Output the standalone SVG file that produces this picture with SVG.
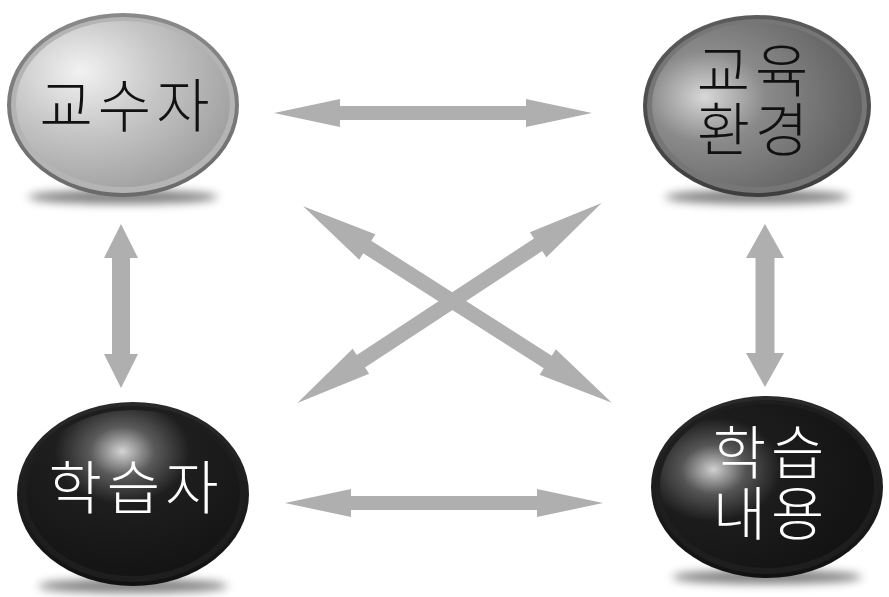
<svg xmlns="http://www.w3.org/2000/svg" width="889" height="597" viewBox="0 0 889 597">
  <defs>
    <style>
      .lbl { font-family: "Noto Sans CJK KR", "Noto Sans", sans-serif; font-size: 58px; font-weight: 300; text-anchor: middle; letter-spacing: 5px; }
      .dark { fill: #111111; }
      .light { fill: #ffffff; }
      .arrow { fill: #afafaf; }
    </style>
    <filter id="blurShadow" x="-30%" y="-200%" width="160%" height="500%">
      <feGaussianBlur stdDeviation="5"/>
    </filter>
    <!-- rim gradients -->
    <linearGradient id="rimLight" x1="0" y1="0" x2="0" y2="1">
      <stop offset="0" stop-color="#8a8a8a"/>
      <stop offset="1" stop-color="#6a6a6a"/>
    </linearGradient>
    <linearGradient id="rimMid" x1="0" y1="0" x2="0" y2="1">
      <stop offset="0" stop-color="#5c5c5c"/>
      <stop offset="1" stop-color="#3e3e3e"/>
    </linearGradient>
    <linearGradient id="rimDark" x1="0" y1="0" x2="0" y2="1">
      <stop offset="0" stop-color="#2a2a2a"/>
      <stop offset="1" stop-color="#111111"/>
    </linearGradient>
    <!-- body gradients -->
    <radialGradient id="bodyLight" cx="0.33" cy="0.33" r="0.8" fx="0.3" fy="0.3">
      <stop offset="0" stop-color="#f2f2f2"/>
      <stop offset="0.45" stop-color="#c6c6c6"/>
      <stop offset="1" stop-color="#9a9a9a"/>
    </radialGradient>
    <radialGradient id="bodyMid" cx="0.28" cy="0.45" r="0.8" fx="0.25" fy="0.45">
      <stop offset="0" stop-color="#d8d8d8"/>
      <stop offset="0.35" stop-color="#8a8a8a"/>
      <stop offset="1" stop-color="#5a5a5a"/>
    </radialGradient>
    <radialGradient id="bodyDarkA" cx="0.45" cy="0.25" r="0.75" fx="0.45" fy="0.25">
      <stop offset="0" stop-color="#d4d4d4"/>
      <stop offset="0.2" stop-color="#5a5a5a"/>
      <stop offset="0.42" stop-color="#1e1e1e"/>
      <stop offset="1" stop-color="#141414"/>
    </radialGradient>
    <radialGradient id="bodyDarkB" cx="0.25" cy="0.4" r="0.75" fx="0.25" fy="0.4">
      <stop offset="0" stop-color="#d0d0d0"/>
      <stop offset="0.2" stop-color="#555555"/>
      <stop offset="0.42" stop-color="#1c1c1c"/>
      <stop offset="1" stop-color="#131313"/>
    </radialGradient>
  </defs>

  <!-- connectors -->
  <g id="connectors">
    <polygon class="arrow" transform="translate(433,113)" points="-159,0 -93,-14 -93,-7 93,-7 93,-14 159,0 93,14 93,7 -93,7 -93,14"/>
    <polygon class="arrow" transform="translate(444,503)" points="-159,0 -93,-14 -93,-7 93,-7 93,-14 159,0 93,14 93,7 -93,7 -93,14"/>
    <polygon class="arrow" transform="translate(121,306) rotate(90)" points="-82,0 -48,-17 -48,-9 48,-9 48,-17 82,0 48,17 48,9 -48,9 -48,17"/>
    <polygon class="arrow" transform="translate(765,305.5) rotate(90)" points="-81.5,0 -47.5,-19 -47.5,-9.5 47.5,-9.5 47.5,-19 81.5,0 47.5,19 47.5,9.5 -47.5,9.5 -47.5,19"/>
    <polygon class="arrow" transform="translate(457.5,304.5) rotate(32.5)" points="-183,0 -107,-15 -107,-7.5 107,-7.5 107,-15 183,0 107,15 107,7.5 -107,7.5 -107,15"/>
    <polygon class="arrow" transform="translate(449.5,303) rotate(-33.3)" points="-182,0 -106,-15 -106,-7.5 106,-7.5 106,-15 182,0 106,15 106,7.5 -106,7.5 -106,15"/>
  </g>

  <!-- 교수자 -->
  <g id="node-professor">
    <ellipse cx="123" cy="197" rx="95" ry="7" fill="#000" opacity="0.5" filter="url(#blurShadow)"/>
    <ellipse cx="123" cy="105" rx="116" ry="92" fill="url(#rimLight)"/>
    <ellipse cx="123" cy="105" rx="112" ry="88" fill="#b4b4b4"/>
    <ellipse cx="123" cy="104" rx="107" ry="83" fill="url(#bodyLight)"/>
    <text class="lbl dark" x="127" y="127">교수자</text>
  </g>

  <!-- 교육 환경 -->
  <g id="node-environment">
    <ellipse cx="757" cy="197" rx="92" ry="7" fill="#000" opacity="0.5" filter="url(#blurShadow)"/>
    <ellipse cx="757" cy="106" rx="114" ry="91" fill="url(#rimMid)"/>
    <ellipse cx="757" cy="106" rx="110" ry="87" fill="#767676"/>
    <ellipse cx="757" cy="105" rx="105" ry="82" fill="url(#bodyMid)"/>
    <text class="lbl dark" x="755" y="92">교육</text>
    <text class="lbl dark" x="755" y="151">환경</text>
  </g>

  <!-- 학습자 -->
  <g id="node-learner">
    <ellipse cx="133" cy="586" rx="95" ry="7" fill="#000" opacity="0.5" filter="url(#blurShadow)"/>
    <ellipse cx="133" cy="494" rx="116" ry="92" fill="url(#rimDark)"/>
    <ellipse cx="133" cy="494" rx="112" ry="88" fill="#1e1e1e"/>
    <ellipse cx="133" cy="493" rx="107" ry="83" fill="url(#bodyDarkA)"/>
    <text class="lbl light" x="136" y="509">학습자</text>
  </g>

  <!-- 학습 내용 -->
  <g id="node-content">
    <ellipse cx="767" cy="577" rx="95" ry="7" fill="#000" opacity="0.5" filter="url(#blurShadow)"/>
    <ellipse cx="767" cy="487" rx="116" ry="91" fill="url(#rimDark)"/>
    <ellipse cx="767" cy="487" rx="112" ry="87" fill="#1e1e1e"/>
    <ellipse cx="767" cy="486" rx="107" ry="82" fill="url(#bodyDarkB)"/>
    <text class="lbl light" x="771" y="474">학습</text>
    <text class="lbl light" x="771" y="535">내용</text>
  </g>
</svg>
